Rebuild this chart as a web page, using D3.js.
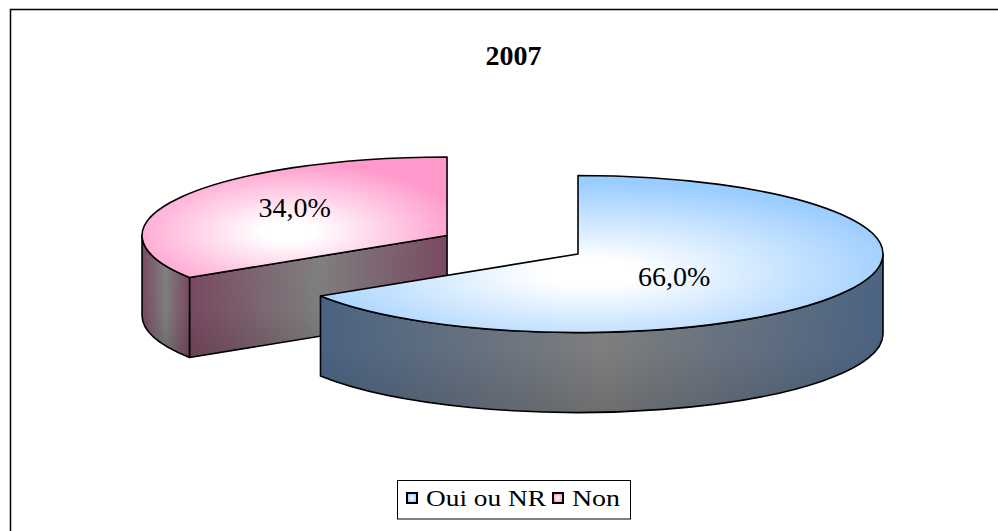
<!DOCTYPE html>
<html><head><meta charset="utf-8">
<script src="https://cdn.jsdelivr.net/npm/d3@7"></script>
<style>html,body{margin:0;padding:0;background:#fff;}svg{display:block;} text{font-family:"Liberation Serif","Times New Roman",Times,"DejaVu Serif",serif;}</style>
</head><body>
<svg id="chart" width="998" height="531"></svg>
<script>
const title = "2007";
const categories = ["Oui ou NR", "Non"];
const values = [66.0, 34.0];
const labels = ["66,0%", "34,0%"];

const W = 998, H = 531;
const svg = d3.select("#chart");
const defs = svg.append("defs");

const topColors = ["#99CCFF", "#FF99CC"];
const sideEdge = ["#4B6483", "#7A4A62"];
const explode = [0, 0.49];
const labelFrac = [{fx: 0.36, fy: 0.58}, {fx: 0.57, fy: 0.75}];

svg.append("rect").attr("x", 10.5).attr("y", 9.5).attr("width", 1000).attr("height", 600)
  .attr("fill", "#fff").attr("stroke", "#000").attr("stroke-width", 1.5);

svg.append("text").attr("x", 513.5).attr("y", 65).attr("text-anchor", "middle")
  .style("font-weight", "bold").style("font-size", "28px").text(title);

const cx0 = 578, cy0 = 254, rx = 305, ry = 78.5, depth = 80;
const pie = d3.pie().sort(null).startAngle(0).endAngle(2 * Math.PI);
const arcs = pie(values);

function pt(c, a, z) { return [c[0] + rx * Math.sin(a), c[1] - ry * Math.cos(a) + (z || 0)]; }

const shade = defs.append("linearGradient").attr("id", "shade").attr("x1", "0%").attr("x2", "0%").attr("y1", "0%").attr("y2", "100%");
shade.append("stop").attr("offset", "0%").attr("stop-color", "#000").attr("stop-opacity", 0);
shade.append("stop").attr("offset", "60%").attr("stop-color", "#000").attr("stop-opacity", 0.02);
shade.append("stop").attr("offset", "100%").attr("stop-color", "#000").attr("stop-opacity", 0.14);

arcs.forEach((d, i) => {
  const mid = (d.startAngle + d.endAngle) / 2;
  d.center = [cx0 + rx * Math.sin(mid) * explode[i], cy0 - ry * Math.cos(mid) * explode[i]];
  const rg = defs.append("radialGradient").attr("id", "top" + i).attr("cx", "48%").attr("cy", "62%").attr("r", "58%");
  rg.append("stop").attr("offset", "0%").attr("stop-color", "#ffffff");
  rg.append("stop").attr("offset", "15%").attr("stop-color", "#ffffff");
  rg.append("stop").attr("offset", "100%").attr("stop-color", topColors[i]);
  const lg = defs.append("linearGradient").attr("id", "side" + i).attr("x1", "0%").attr("x2", "100%").attr("y1", "0%").attr("y2", "0%");
  lg.append("stop").attr("offset", "0%").attr("stop-color", sideEdge[i]);
  lg.append("stop").attr("offset", "50%").attr("stop-color", "#808080");
  lg.append("stop").attr("offset", "100%").attr("stop-color", sideEdge[i]);
});

const order = arcs.map((d, i) => i).sort((a, b) => arcs[a].center[1] - arcs[b].center[1]);
const g = svg.append("g").attr("stroke-linejoin", "round");

function face(dstr, fill) {
  g.append("path").attr("d", dstr).attr("fill", fill).attr("stroke", "none");
  g.append("path").attr("d", dstr).attr("fill", "url(#shade)").attr("stroke", "#000").attr("stroke-width", 1.6);
}

order.forEach(i => {
  const d = arcs[i], c = d.center;
  const a0 = d.startAngle, a1 = d.endAngle;
  if (Math.sin(a0) < -1e-6) {
    const p = pt(c, a0);
    face(`M${c[0]},${c[1]}L${p[0]},${p[1]}L${p[0]},${p[1] + depth}L${c[0]},${c[1] + depth}Z`, `url(#side${i})`);
  }
  if (Math.sin(a1) > 1e-6) {
    const p = pt(c, a1);
    face(`M${c[0]},${c[1]}L${p[0]},${p[1]}L${p[0]},${p[1] + depth}L${c[0]},${c[1] + depth}Z`, `url(#side${i})`);
  }
  const s0 = Math.max(a0, Math.PI / 2), s1 = Math.min(a1, 3 * Math.PI / 2);
  if (s1 > s0) {
    const p0 = pt(c, s0), p1 = pt(c, s1);
    face(`M${p0[0]},${p0[1]}A${rx},${ry} 0 0 1 ${p1[0]},${p1[1]}L${p1[0]},${p1[1] + depth}A${rx},${ry} 0 0 0 ${p0[0]},${p0[1] + depth}Z`, `url(#side${i})`);
  }
  const q0 = pt(c, a0), q1 = pt(c, a1);
  const large = (a1 - a0) > Math.PI ? 1 : 0;
  g.append("path").attr("fill", `url(#top${i})`).attr("stroke", "#000").attr("stroke-width", 1.6)
    .attr("d", `M${c[0]},${c[1]}L${q0[0]},${q0[1]}A${rx},${ry} 0 ${large} 1 ${q1[0]},${q1[1]}Z`);
});

arcs.forEach((d, i) => {
  const mid = (d.startAngle + d.endAngle) / 2, c = d.center;
  const x = c[0] + rx * Math.sin(mid) * labelFrac[i].fx;
  const y = c[1] - ry * Math.cos(mid) * labelFrac[i].fy;
  svg.append("text").attr("x", x).attr("y", y + 10).attr("text-anchor", "middle")
    .style("font-size", "28px").attr("fill", "#000").text(labels[i]);
});

const leg = svg.append("g");
leg.append("rect").attr("x", 397.5).attr("y", 480.5).attr("width", 233).attr("height", 38.5)
  .attr("fill", "#fff").attr("stroke", "#000").attr("stroke-width", 1);
const legX = [407, 553];
const legW = [120, 48];
categories.forEach((name, i) => {
  const lgr = defs.append("radialGradient").attr("id", "leg" + i);
  lgr.append("stop").attr("offset", "0%").attr("stop-color", "#fff");
  lgr.append("stop").attr("offset", "100%").attr("stop-color", topColors[i]);
  leg.append("rect").attr("x", legX[i]).attr("y", 493).attr("width", 10).attr("height", 10)
    .attr("fill", `url(#leg${i})`).attr("stroke", "#000").attr("stroke-width", 2);
  leg.append("text").attr("x", legX[i] + 19).attr("y", 506)
    .attr("textLength", legW[i]).attr("lengthAdjust", "spacingAndGlyphs")
    .style("font-size", "24px").attr("fill", "#000").text(name);
});
</script>
</body></html>
